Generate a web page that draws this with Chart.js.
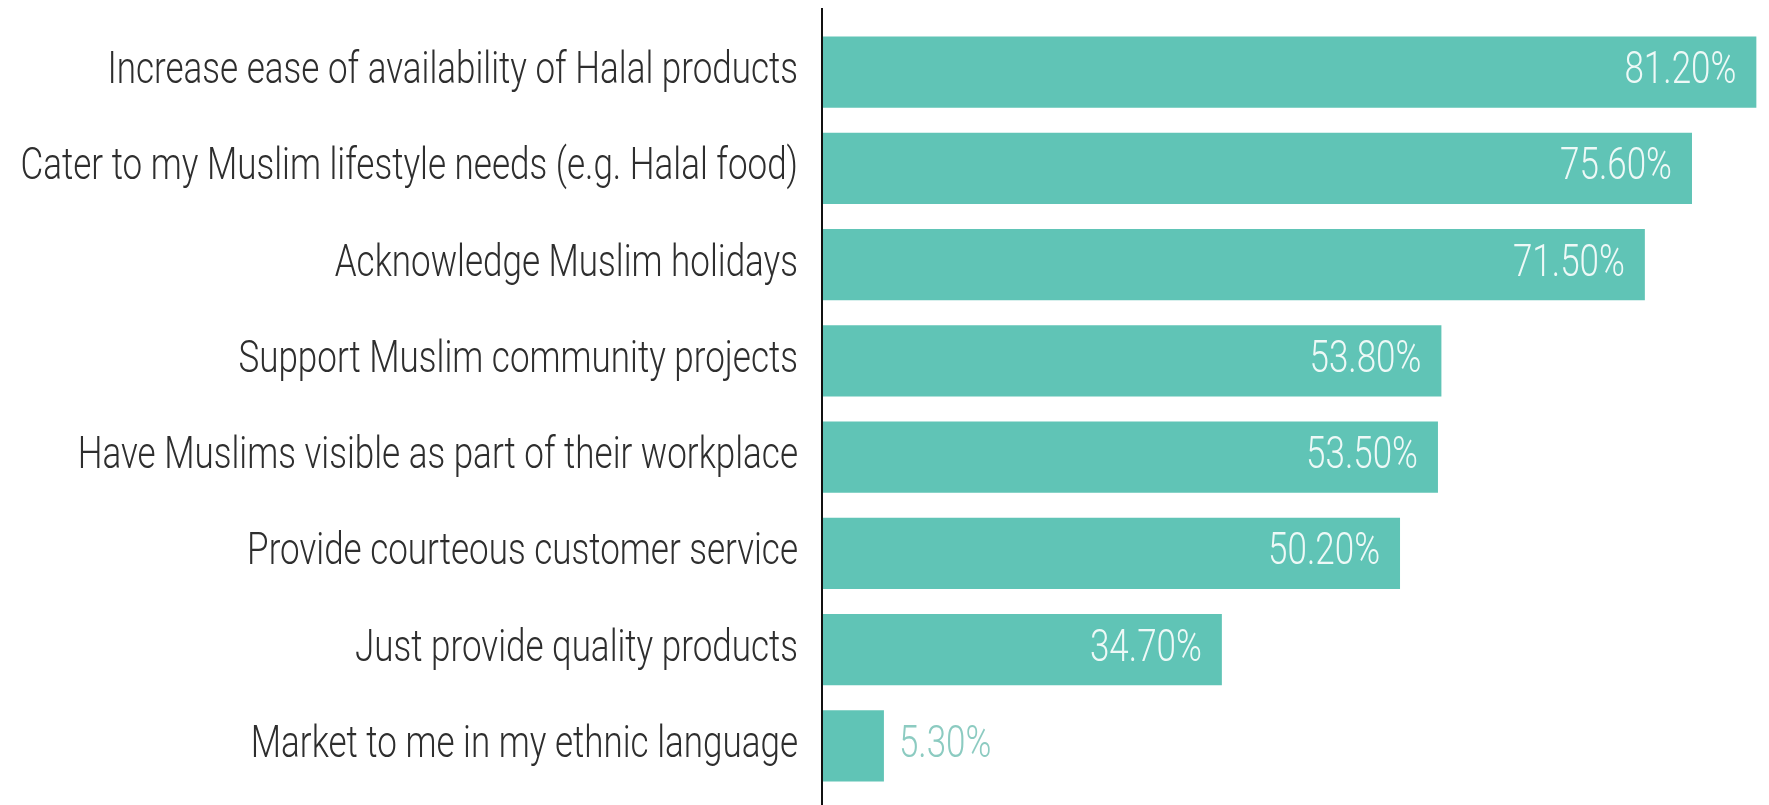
<!DOCTYPE html>
<html>
<head>
<meta charset="utf-8">
<script src="https://cdn.jsdelivr.net/npm/chart.js@4"></script>
<style>
    html, body { margin: 0; padding: 0; background: #ffffff; }
    #wrap { width: 1769px; height: 805px; position: relative; }
</style>
</head>
<body>
<div id="wrap"><canvas id="barChart"></canvas></div>
<script>
let categories = [
    'Increase ease of availability of Halal products',
    'Cater to my Muslim lifestyle needs (e.g. Halal food)',
    'Acknowledge Muslim holidays',
    'Support Muslim community projects',
    'Have Muslims visible as part of their workplace',
    'Provide courteous customer service',
    'Just provide quality products',
    'Market to me in my ethnic language'
];
let percentages = [81.2, 75.6, 71.5, 53.8, 53.5, 50.2, 34.7, 5.3];

let barColor = '#60c4b6';
let textStretch = 1.25;

// draws one line of text a bit taller than the font normally is
function stretchedText(ctx, text, x, y, align) {
    ctx.save();
    ctx.translate(x, y);
    ctx.scale(1, textStretch);
    ctx.textAlign = align;
    ctx.textBaseline = 'middle';
    ctx.fillText(text, 0, 0);
    ctx.restore();
}

let labelPlugin = {
    id: 'labelPlugin',
    afterDatasetsDraw(chart) {
        let ctx = chart.ctx;
        let area = chart.chartArea;
        let yScale = chart.scales.y;
        let meta = chart.getDatasetMeta(0);

        // vertical axis line
        ctx.save();
        ctx.strokeStyle = '#111111';
        ctx.lineWidth = 2;
        ctx.beginPath();
        ctx.moveTo(area.left - 1, 8);
        ctx.lineTo(area.left - 1, chart.height);
        ctx.stroke();
        ctx.restore();

        // category names
        ctx.save();
        ctx.fillStyle = '#2e2e2e';
        ctx.font = '300 35px Roboto';
        categories.forEach((name, i) => {
            stretchedText(ctx, name, area.left - 25, yScale.getPixelForValue(i), 'right');
        });
        ctx.restore();

        // values at the end of each bar
        ctx.save();
        ctx.font = '300 35px Roboto';
        meta.data.forEach((bar, i) => {
            let text = percentages[i].toFixed(2) + '%';
            let w = ctx.measureText(text).width;
            if (bar.x - bar.base > w + 40) {
                ctx.fillStyle = '#eef9f7';
                stretchedText(ctx, text, bar.x - 20, bar.y, 'right');
            } else {
                ctx.fillStyle = '#8ccbc1';
                stretchedText(ctx, text, bar.x + 15, bar.y, 'left');
            }
        });
        ctx.restore();
    }
};

new Chart(document.getElementById('barChart').getContext('2d'), {
    type: 'bar',
    data: {
        labels: categories,
        datasets: [{
            data: percentages,
            backgroundColor: barColor,
            borderWidth: 0,
            barPercentage: 0.74,
            categoryPercentage: 1.0
        }]
    },
    options: {
        indexAxis: 'y',
        responsive: true,
        maintainAspectRatio: false,
        animation: false,
        layout: { padding: { top: 24, bottom: 11, left: 0, right: 0 } },
        plugins: {
            legend: { display: false },
            tooltip: { enabled: false }
        },
        scales: {
            x: {
                display: false,
                min: 0,
                max: 82.3
            },
            y: {
                ticks: { display: false },
                grid: { display: false },
                border: { display: false },
                afterFit: (scale) => { scale.width = 823; }
            }
        }
    },
    plugins: [labelPlugin]
});
</script>
</body>
</html>
